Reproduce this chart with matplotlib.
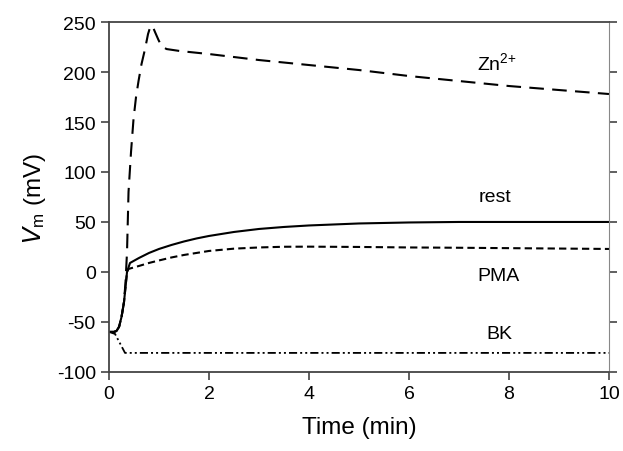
import numpy as np
import matplotlib.pyplot as plt

plt.rcParams['font.family'] = ['Liberation Sans', 'DejaVu Sans']
plt.rcParams['axes.unicode_minus'] = False
plt.rcParams['mathtext.default'] = 'regular'

# membrane potential traces
t_zn = [0, 0.1, 0.15, 0.2, 0.25, 0.3, 0.33, 0.36, 0.39, 0.44, 0.49, 0.54, 0.59, 0.65, 0.72, 0.78,
        0.83, 0.87, 0.92, 0.99, 1.05, 1.15, 1.42, 2, 3, 4, 5, 6, 7, 8, 9, 10]
v_zn = [-60, -60, -59, -55, -45, -30, -10, 20, 80, 120, 153, 175, 191, 208, 223, 238,
        246, 246, 240, 232, 226, 223, 221, 218, 212, 207, 202, 196, 191, 186, 182, 178]

t_rest = [0, 0.1, 0.15, 0.2, 0.25, 0.3, 0.33, 0.36, 0.42, 0.6, 0.8, 1.0, 1.25, 1.5, 1.75, 2.0,
          2.5, 3.0, 3.5, 4.0, 5.0, 6.0, 7.0, 10.0]
v_rest = [-60, -60, -59, -55, -45, -30, -15, 0, 9, 14, 19, 23, 27, 30.5, 33.5, 36,
          40, 43, 45, 46.5, 48.5, 49.5, 50, 50]

t_pma = [0, 0.1, 0.15, 0.2, 0.25, 0.3, 0.33, 0.36, 0.39, 0.6, 0.8, 1.0, 1.25, 1.5, 1.75, 2.0,
         2.5, 3.0, 3.5, 4.0, 5.0, 6.0, 7.0, 8.0, 10.0]
v_pma = [-60, -60, -59, -55, -45, -30, -15, 0, 3, 6, 9, 11.5, 14.5, 17, 19, 21,
         23.3, 24.5, 25.2, 25.3, 25, 24.5, 24.2, 23.8, 23]

t_bk = [0, 0.12, 0.32, 1.0, 10.0]
v_bk = [-60, -62, -81, -81, -81]

labels = ['Zn$^{2{+}}$', 'rest', 'PMA', 'BK']
label_x = [7.75, 7.72, 7.8, 7.8]
label_y = [210, 75, -4, -62]

fig = plt.figure(figsize=(6.23, 4.52), dpi=100)
ax = fig.add_axes([0.175, 0.175, 0.8025, 0.774])

ax.plot(t_zn, v_zn, color='black', lw=1.5, ls=(0, (7, 4)))
ax.plot(t_rest, v_rest, color='black', lw=1.5)
ax.plot(t_pma, v_pma, color='black', lw=1.5, ls=(0, (3.5, 2)))
ax.plot(t_bk, v_bk, color='black', lw=1.3, ls=(0, (4.5, 1.7, 1.1, 1.7, 1.1, 1.7)))

for lab, x, y in zip(labels, label_x, label_y):
    ax.text(x, y, lab, fontsize=14, ha='center', va='center')

ax.set_xlim(0, 10)
ax.set_ylim(-100, 250)
ax.set_xticks([0, 2, 4, 6, 8, 10])
ax.set_yticks([-100, -50, 0, 50, 100, 150, 200, 250])
ax.tick_params(axis='both', labelsize=14, length=6, width=1.2, color='#444444', direction='out')
ax.tick_params(axis='y', right=True)
for side in ['left', 'bottom', 'top']:
    ax.spines[side].set_color('#444444')
    ax.spines[side].set_linewidth(1.3)
ax.spines['right'].set_color('#888888')

ax.set_xlabel('Time (min)', fontsize=17.5, labelpad=10)
ax.set_ylabel('$\\it{V}$$_{m}$ (mV)', fontsize=17.5, labelpad=6)

fig.savefig('out.png', dpi=100)
